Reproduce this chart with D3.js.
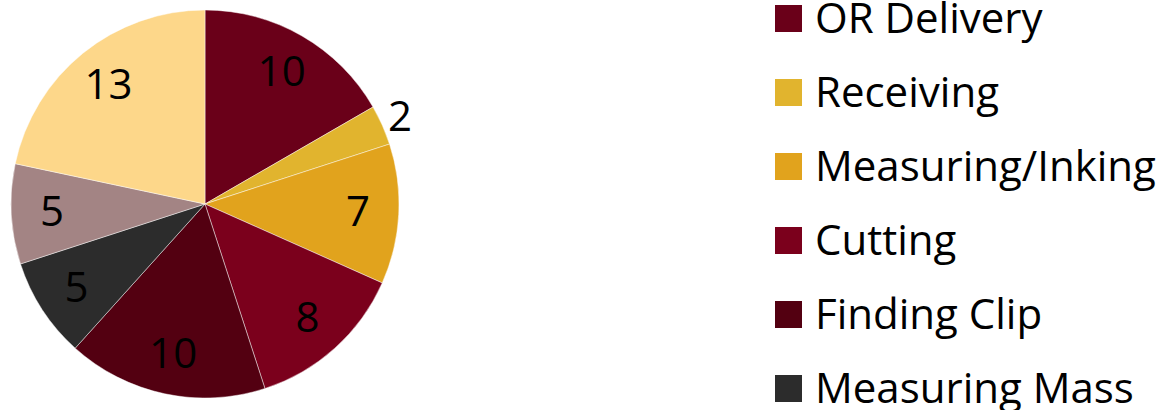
<!DOCTYPE html>
<html>
<head>
<meta charset="utf-8">
<script src="https://cdn.jsdelivr.net/npm/d3@7"></script>
<style>
  body { margin: 0; background: #fff; }
  svg text { font-family: "Open Sans", "Noto Sans", sans-serif; fill: #000; }
</style>
</head>
<body>
<div id="chart"></div>
<script>
// chart data
var categories = ["OR Delivery", "Receiving", "Measuring/Inking", "Cutting", "Finding Clip", "Measuring Mass", "Labeling", "Transport"];
var values = [10, 2, 7, 8, 10, 5, 5, 13];
var colors = ["#6a0019", "#e1b42e", "#e1a31d", "#7b001c", "#530011", "#2c2c2c", "#a38484", "#fdd78a"];

var width = 1163, height = 410;
var cx = 205, cy = 204, radius = 194;

var svg = d3.select("#chart")
    .append("svg")
    .attr("width", width)
    .attr("height", height);

var pie = d3.pie().sort(null).value(function (d) { return d; });
var arcs = pie(values);

var arc = d3.arc().innerRadius(0).outerRadius(radius);
var labelArc = d3.arc().innerRadius(radius * 0.79).outerRadius(radius * 0.79);
var outArc = d3.arc().innerRadius(radius * 1.1).outerRadius(radius * 1.1);

var g = svg.append("g").attr("transform", "translate(" + cx + "," + cy + ")");

g.selectAll("path")
    .data(arcs)
    .enter()
    .append("path")
    .attr("d", arc)
    .attr("fill", function (d, i) { return colors[i]; })
    .attr("stroke", "rgba(255,255,255,0.6)")
    .attr("stroke-width", 0.75);

// slice labels, small slices go outside
g.selectAll("text.lbl")
    .data(arcs)
    .enter()
    .append("text")
    .attr("class", "lbl")
    .attr("transform", function (d) {
        var p = d.value < 3 ? outArc.centroid(d) : labelArc.centroid(d);
        return "translate(" + p[0] + "," + p[1] + ")";
    })
    .attr("text-anchor", "middle")
    .attr("dy", "0.34em")
    .attr("font-size", "42px")
    .text(function (d) { return d.value; });

// legend (rows past the bottom edge are not shown, like the reference)
var rowStep = 74;
var shown = categories.filter(function (d, i) { return 5 + i * rowStep < height; });
var legend = svg.append("g").attr("transform", "translate(775,5)");
var rows = legend.selectAll("g")
    .data(shown)
    .enter()
    .append("g")
    .attr("transform", function (d, i) { return "translate(0," + (i * rowStep) + ")"; });

rows.append("rect")
    .attr("width", 27)
    .attr("height", 27)
    .attr("fill", function (d, i) { return colors[i]; });

rows.append("text")
    .attr("x", 40)
    .attr("y", 28)
    .attr("font-size", "42px")
    .text(function (d) { return d; });
</script>
</body>
</html>
